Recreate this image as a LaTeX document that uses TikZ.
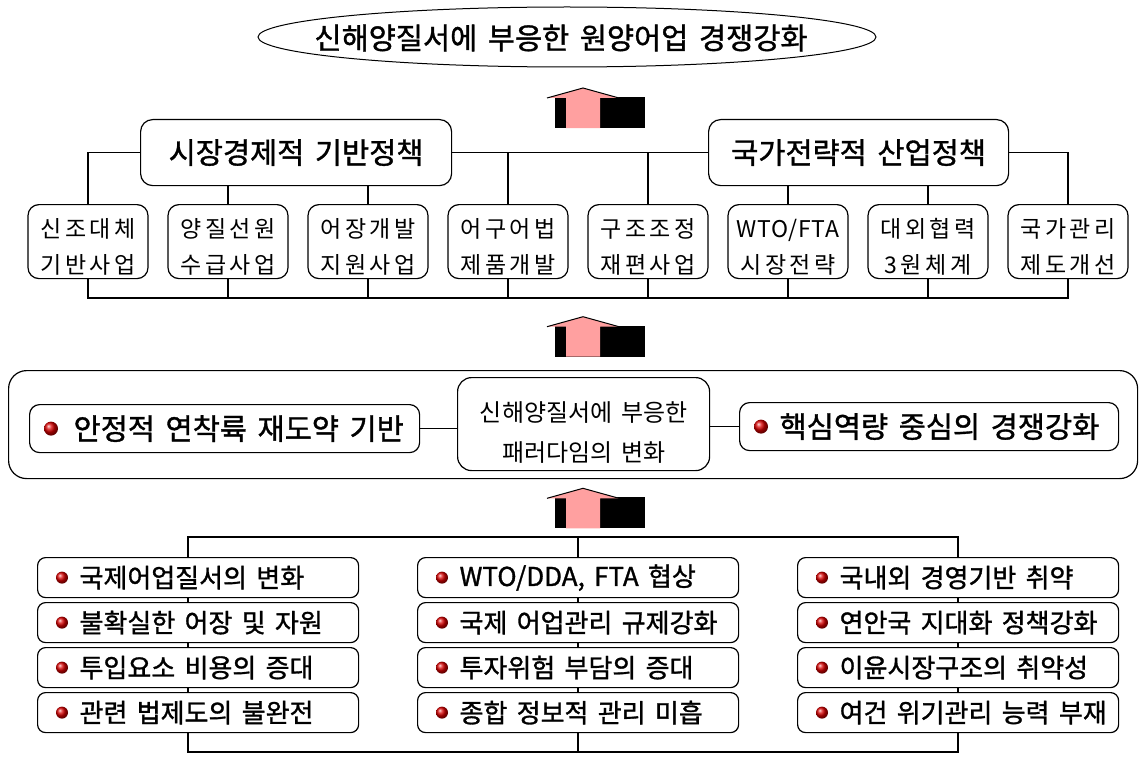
\documentclass[tikz,border=0pt]{standalone}
\usepackage{fontspec}
\setmainfont{Noto Sans CJK KR}[WordSpace=1.6]
\newfontfamily\kf{Noto Sans CJK KR}[WordSpace=1.6]
\newfontfamily\kfb{Noto Sans CJK KR}[WordSpace=1.6,FakeBold=1.2]
\newfontfamily\kfs{Noto Sans CJK KR}[LetterSpace=16]
\newfontfamily\kfl{Noto Sans CJK KR}[LetterSpace=3]
\usetikzlibrary{shapes.geometric,calc}
\definecolor{arrowpink}{RGB}{255,160,160}
\newcommand\bigUpArrow[1]{%
  \begin{scope}[shift={(0,#1)}]
    \fill[black] (555,97) rectangle (645,128);
    \fill[arrowpink] (566,128) -- (566,98) -- (547,98) -- (583,88) -- (619,98) -- (600,98) -- (600,128) -- cycle;
    \draw[line width=1pt] (547,98) -- (583,88) -- (619,98);
  \end{scope}}
\newcommand\lowerby[1]{\rule{0pt}{#1}}
\begin{document}
\begin{tikzpicture}[x=1pt,y=-1pt,line width=1.2pt,
  rbox/.style={draw=black,fill=white,rounded corners=#1,inner sep=0pt},
  rbox/.default=9,
  head/.style={rbox=12,font=\kfb\fontsize{29.5}{36}\selectfont},
  child/.style={rbox=11,align=center,font=\kfs\fontsize{23}{36}\selectfont,minimum width=120,minimum height=74},
  midtext/.style={font=\kfb\fontsize{29.5}{36}\selectfont,inner sep=0pt},
  btext/.style={font=\kfb\fontsize{26}{32}\selectfont,inner sep=0pt},
  bbox/.style={rbox=8,minimum width=321,minimum height=40,anchor=north west},
  bul/.style={ball color=red!85!black}
]
\useasboundingbox (0,0) rectangle (1142,757);

% ---- title
\coordinate (ellc) at (567,37);
\draw[line width=1pt] (ellc) ellipse [x radius=309, y radius=30];
\node[inner sep=0pt,font=\kfb\fontsize{29.5}{36}\selectfont] (title) at (561,38) {신해양질서에 부응한 원양어업 경쟁강화};

\bigUpArrow{0}

% ---- policy level
\node[head,minimum width=311,minimum height=66,anchor=north west] (A) at (140,119) {시장경제적 기반정책};
\node[head,minimum width=300,minimum height=66,anchor=north west] (B) at (708,119) {국가전략적 산업정책};

\foreach \i/\cx in {1/88,2/228,3/368,4/508,5/648,6/788,7/928,8/1068}{
  \coordinate (p\i) at (\cx,204);
}
\coordinate (busb) at (0,298);

% connectors behind boxes
\draw (p1) |- (A.west);
\draw (A.east) -- (B.west);
\draw (B.east) -| (p8);
\draw (p2) -- (p2 |- A.south);
\draw (p3) -- (p3 |- A.south);
\draw (p4) -- (p4 |- A.east);
\draw (p5) -- (p5 |- A.east);
\draw (p6) -- (p6 |- B.south);
\draw (p7) -- (p7 |- B.south);

\node[child,anchor=north] (c1) at (p1) {\lowerby{30pt}신조대체\\기반사업};
\node[child,anchor=north] (c2) at (p2) {\lowerby{30pt}양질선원\\수급사업};
\node[child,anchor=north] (c3) at (p3) {\lowerby{30pt}어장개발\\지원사업};
\node[child,anchor=north] (c4) at (p4) {\lowerby{30pt}어구어법\\제품개발};
\node[child,anchor=north] (c5) at (p5) {\lowerby{30pt}구조조정\\재편사업};
\node[child,anchor=north] (c6) at (p6) {\lowerby{30pt}{\kfl WTO/FTA}\\시장전략};
\node[child,anchor=north] (c7) at (p7) {\lowerby{30pt}대외협력\\3원체계};
\node[child,anchor=north] (c8) at (p8) {\lowerby{30pt}국가관리\\제도개선};

\draw (c1.south) -- (c1.south |- busb) -- (c8.south |- busb) -- (c8.south);
\foreach \i in {2,...,7}{ \draw (c\i.south) -- (c\i.south |- busb); }

\bigUpArrow{228.7}

% ---- paradigm level
\node[rbox=18,minimum width=1129,minimum height=108,anchor=north west] (M) at (8,370) {};
\node[rbox=10,minimum width=390,minimum height=48,anchor=north west] (L) at (29,404) {};
\node[rbox=14,minimum width=252,minimum height=93,anchor=north west,align=center,
      font=\kf\fontsize{24}{40}\selectfont] (C) at (457,377) {\lowerby{36pt}신해양질서에 부응한\\패러다임의 변화};
\node[rbox=10,minimum width=379,minimum height=48,anchor=north west] (R) at (739,402) {};
\draw (L.east) -- (L.east -| C.west);
\draw (R.west) -- (R.west -| C.east);
\shade[bul] ($(L.west)+(22,0)$) circle (7);
\node[midtext,anchor=west] (Lt) at ($(L.west)+(44,0)$) {안정적 연착륙 재도약 기반};
\shade[bul] ($(R.west)+(22,0)$) circle (7);
\node[midtext,anchor=west] (Rt) at ($(R.west)+(40,0)$) {핵심역량 중심의 경쟁강화};

\bigUpArrow{400.3}

% ---- issues level
\coordinate (v1) at (188,537);
\coordinate (v2) at (578,537);
\coordinate (v3) at (958,537);
\coordinate (bb) at (0,752);
\draw (v1 |- bb) -- (v1) -- (v3) -- (v3 |- bb) -- cycle;
\draw (v2) -- (v2 |- bb);

\foreach \col/\x/\tx in {
  a/37/{국제어업질서의 변화,불확실한 어장 및 자원,투입요소 비용의 증대,관련 법제도의 불완전},
  b/417/{{WTO/DDA, FTA 협상},국제 어업관리 규제강화,투자위험 부담의 증대,종합 정보적 관리 미흡},
  c/797/{국내외 경영기반 취약,연안국 지대화 정책강화,이윤시장구조의 취약성,여건 위기관리 능력 부재}}{
  \foreach \t [count=\r] in \tx {
    \pgfmathsetmacro\yy{557+45*(\r-1)}
    \node[bbox] (\col\r) at (\x,\yy) {};
    \shade[bul] ($(\col\r.west)+(25,0)$) circle (6);
    \node[btext,anchor=west] (\col\r t) at ($(\col\r.west)+(42,0)$) {\t};
  }
}
\end{tikzpicture}
\end{document}
